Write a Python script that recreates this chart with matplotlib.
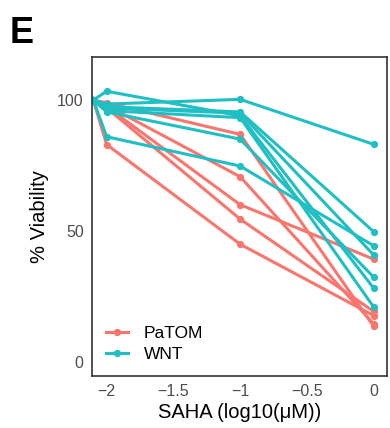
import matplotlib
matplotlib.use("Agg")
import matplotlib.pyplot as plt
from matplotlib.lines import Line2D

plt.rcParams['font.family'] = ['Liberation Sans', 'DejaVu Sans']

# SAHA dose, log10(uM)
doses = [-2.1, -2.0, -1.0, 0.0]

# % viability per cell line, one row per line
patom_lines = [
    [100, 99.0, 86.9, 13.5],
    [100, 98.0, 70.7, 14.4],
    [100, 97.5, 60.0, 39.2],
    [100, 97.0, 54.5, 19.2],
    [100, 83.0, 44.9, 17.6],
]
wnt_lines = [
    [100, 98.5, 100.3, 83.1],
    [100, 97.5, 95.5, 49.7],
    [100, 97.0, 95.0, 40.8],
    [100, 103.4, 94.0, 28.1],
    [100, 96.0, 93.3, 20.9],
    [100, 95.5, 85.1, 32.3],
    [100, 86.0, 74.8, 44.3],
]

groups = ["PaTOM", "WNT"]
colors = {"PaTOM": "#F8766D", "WNT": "#1FBFC4"}

x_ticks = [-2, -1.5, -1, -0.5, 0]
x_ticklabels = ["\u22122", "\u22121.5", "\u22121", "\u22120.5", "0"]
y_ticks = [0, 50, 100]


def main():
    W, H = 390, 428
    fig = plt.figure(figsize=(W / 100, H / 100), dpi=100)
    ax = fig.add_axes([92 / W, (H - 376) / H, (387 - 92) / W, (376 - 57) / H])

    for vals in patom_lines:
        ax.plot(doses, vals, color=colors["PaTOM"], lw=2.2, marker="o",
                ms=4.2, solid_capstyle="round")
    for vals in wnt_lines:
        ax.plot(doses, vals, color=colors["WNT"], lw=2.2, marker="o",
                ms=4.2, solid_capstyle="round")

    ax.set_xlim(-2.11, 0.1)
    ax.set_ylim(-5.5, 116.5)
    ax.set_xticks(x_ticks)
    ax.set_xticklabels(x_ticklabels)
    ax.set_yticks(y_ticks)
    ax.tick_params(length=0, labelsize=11.5, labelcolor="#4D4D4D", pad=6)
    for s in ax.spines.values():
        s.set_color("#333333")
        s.set_linewidth(1.2)

    ax.set_xlabel("SAHA (log10(\u03bcM))", fontsize=14.5, labelpad=3)
    ax.set_ylabel("% Viability", fontsize=14.5, labelpad=6)

    handles = [Line2D([0], [0], color=colors[g], lw=2.2, marker="o", ms=4.2)
               for g in groups]
    ax.legend(handles, groups, loc="lower left", bbox_to_anchor=(0.0, 0.0),
              frameon=False, fontsize=12.5, handlelength=1.3,
              handletextpad=0.9, labelspacing=0.35, borderaxespad=0.4)

    fig.text(10 / W, 1 - 43 / H, "E", fontsize=26, fontweight="bold",
             ha="left", va="baseline")

    fig.savefig("out.png", dpi=100)


if __name__ == "__main__":
    main()
